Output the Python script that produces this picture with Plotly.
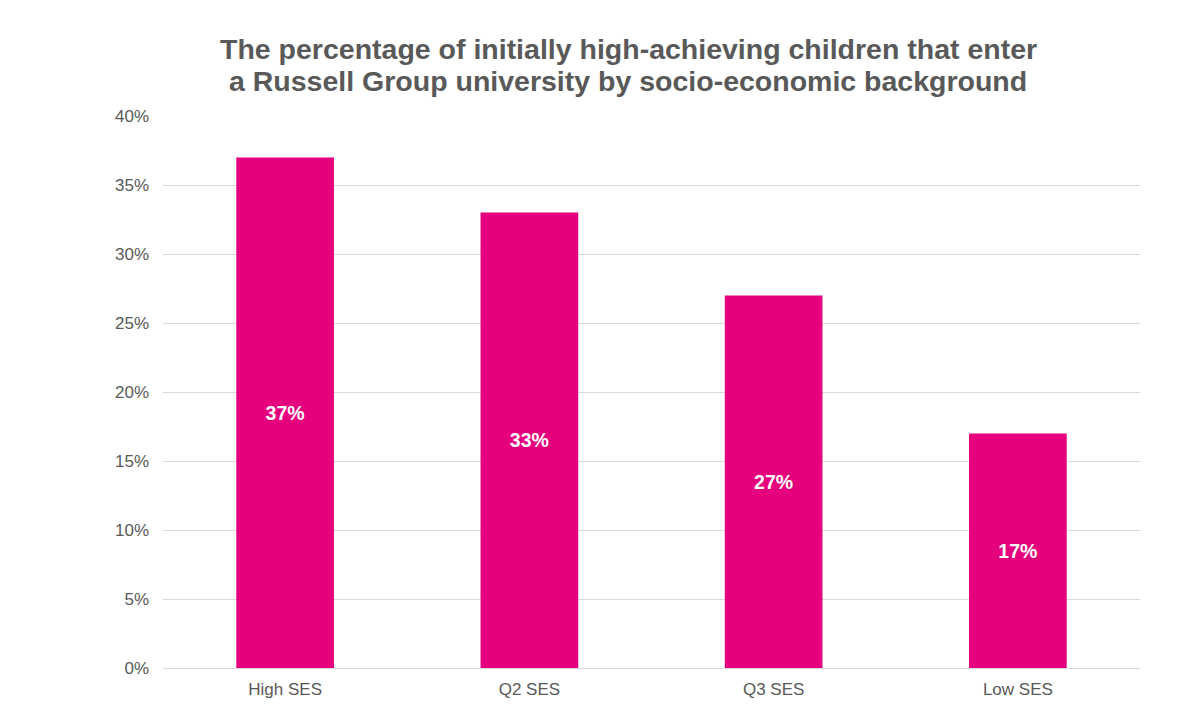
import plotly.graph_objects as go

categories = ["High SES", "Q2 SES", "Q3 SES", "Low SES"]
values = [37, 33, 27, 17]
tick_vals = [0, 5, 10, 15, 20, 25, 30, 35, 40]
tick_text = [f"{v}%" for v in tick_vals]
title_lines = [
    "The percentage of initially high-achieving children that enter",
    "a Russell Group university by socio-economic background",
]

# figure geometry (page has an 8px body margin)
W, H = 1186, 713
ML, MR, MT, MB = 155, 54, 108, 53
PLOT_H = H - MT - MB


def paper_y(page_y):
    fig_y = page_y - 8
    return 1 + (MT - fig_y) / PLOT_H


def paper_x(page_x):
    fig_x = page_x - 8
    return (fig_x - ML) / (W - ML - MR)


FONT = "Liberation Sans, Arial, sans-serif"

fig = go.Figure(go.Bar(
    x=categories, y=values,
    marker=dict(color="#E6007E", line=dict(width=0)),
    width=0.4,
    text=[f"{v}%" for v in values],
    textposition="inside",
    insidetextanchor="middle",
    textfont=dict(color="white", size=19.5, family=FONT),
    texttemplate="<b>%{text}</b>",
    hoverinfo="skip",
))

annotations = []
for line, py in zip(title_lines, [49, 81]):
    annotations.append(dict(
        text=f"<b>{line}</b>", xref="paper", yref="paper",
        x=paper_x(628), y=paper_y(py), xanchor="center", yanchor="middle",
        showarrow=False, font=dict(size=28.5, color="#595959", family=FONT),
    ))

fig.update_layout(
    width=W, height=H,
    margin=dict(l=ML, r=MR, t=MT, b=MB),
    paper_bgcolor="white", plot_bgcolor="white",
    font=dict(family=FONT, color="#595959"),
    annotations=annotations,
    showlegend=False,
)
fig.update_yaxes(range=[0, 40], tickvals=tick_vals, ticktext=tick_text,
                 showgrid=True, gridcolor="#d9d9d9", gridwidth=1,
                 zeroline=False, showline=False, ticks="",
                 ticklabelstandoff=13,
                 tickfont=dict(size=17, color="#595959"), automargin=False)
fig.update_xaxes(showgrid=False, showline=True, linecolor="#d9d9d9", linewidth=1,
                 ticks="", ticklabelstandoff=6,
                 tickfont=dict(size=17, color="#595959"), automargin=False)

fig.write_html("out.html")
